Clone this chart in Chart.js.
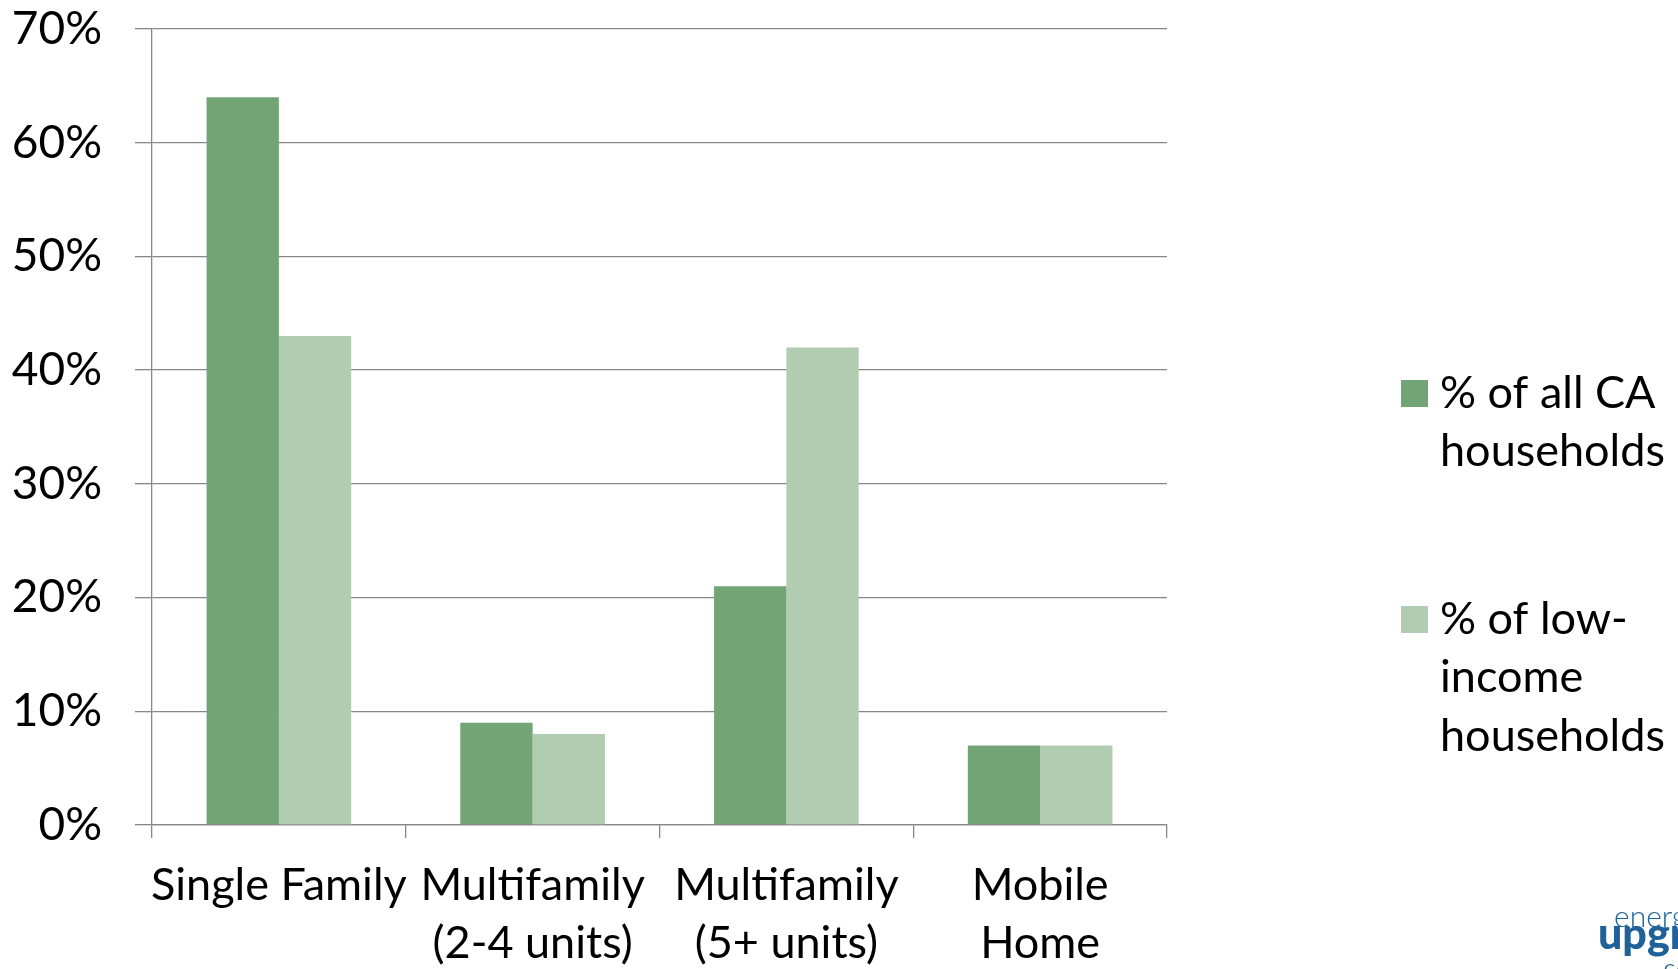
<!DOCTYPE html>
<html>
<head>
<meta charset="utf-8">
<script src="https://cdn.jsdelivr.net/npm/chart.js@4"></script>
<style>
  html, body { margin: 0; padding: 0; background: #fff; }
  #wrap { width: 1678px; height: 969px; position: relative; }
</style>
</head>
<body>
<div id="wrap"><canvas id="housingChart" width="1678" height="969"></canvas></div>
<script>
// 住宅タイプ別の世帯割合
const categories = [
  ['Single Family'],
  ['Multifamily', '(2-4 units)'],
  ['Multifamily', '(5+ units)'],
  ['Mobile', 'Home']
];
const allHouseholds = [64, 9, 21, 7];
const lowIncomeHouseholds = [43, 8, 42, 7];
const seriesLabels = [
  ['% of all CA', 'households'],
  ['% of low-', 'income', 'households']
];
const yTicks = [0, 10, 20, 30, 40, 50, 60, 70];

const DARK = '#72a476';
const LIGHT = '#b0cdb1';
const GRID = '#878787';
const FONT = 'Lato, "Open Sans", sans-serif';

// 凡例 (複数行) をキャンバスに描く
const sideLegend = {
  id: 'sideLegend',
  afterDraw(chart) {
    const ctx = chart.ctx;
    const tops = [393, 619];
    ctx.save();
    ctx.font = '45px ' + FONT;
    ctx.textBaseline = 'middle';
    ctx.textAlign = 'left';
    chart.data.datasets.forEach((ds, i) => {
      ctx.fillStyle = ds.backgroundColor;
      ctx.fillRect(1401, tops[i] - 13, 27, 27);
      ctx.fillStyle = '#000';
      ds.legendLines.forEach((line, j) => {
        ctx.fillText(line, 1440, tops[i] + j * 58.5);
      });
    });
    // 右下のロゴ (一部が切れている)
    ctx.fillStyle = '#1f6198';
    ctx.textBaseline = 'alphabetic';
    ctx.font = '300 30px ' + FONT;
    ctx.fillText('energy', 1614, 927);
    ctx.font = '900 43px ' + FONT;
    ctx.fillText('upgrade', 1598, 949);
    ctx.font = '16px ' + FONT;
    ctx.fillText('CA', 1664, 975);
    ctx.restore();
  }
};

const ctx = document.getElementById('housingChart').getContext('2d');
const chart = new Chart(ctx, {
  type: 'bar',
  data: {
    labels: categories,
    datasets: [
      {
        label: seriesLabels[0].join(' '),
        legendLines: seriesLabels[0],
        data: allHouseholds,
        backgroundColor: DARK
      },
      {
        label: seriesLabels[1].join(' '),
        legendLines: seriesLabels[1],
        data: lowIncomeHouseholds,
        backgroundColor: LIGHT
      }
    ]
  },
  options: {
    responsive: false,
    devicePixelRatio: 1,
    animation: false,
    layout: { padding: { top: 29, right: 511, bottom: 0, left: 0 } },
    datasets: {
      bar: { categoryPercentage: 0.57, barPercentage: 1.0, borderWidth: 0 }
    },
    plugins: {
      legend: { display: false },
      tooltip: { enabled: false }
    },
    scales: {
      x: {
        offset: true,
        grid: {
          offset: true,
          drawOnChartArea: false,
          drawTicks: true,
          tickLength: 13,
          color: GRID,
          lineWidth: 1.3
        },
        border: { display: true, color: GRID, width: 1.3 },
        ticks: {
          color: '#000',
          padding: 18,
          maxRotation: 0,
          autoSkip: false,
          font: { family: FONT, size: 45, lineHeight: 1.3 }
        },
        afterFit: s => { s.height = 144; s.paddingLeft = 0; s.paddingRight = 0; }
      },
      y: {
        min: 0,
        max: 70,
        afterBuildTicks: s => { s.ticks = yTicks.map(v => ({ value: v })); },
        grid: {
          color: GRID,
          lineWidth: 1.3,
          drawTicks: true,
          tickLength: 17
        },
        border: { display: true, color: GRID, width: 1.3 },
        ticks: {
          color: '#000',
          padding: 33,
          callback: v => v + '%',
          font: { family: FONT, size: 46, lineHeight: 1.26 }
        },
        afterFit: s => { s.width = 152; s.paddingTop = 0; s.paddingBottom = 0; }
      }
    }
  },
  plugins: [sideLegend]
});
</script>
</body>
</html>
